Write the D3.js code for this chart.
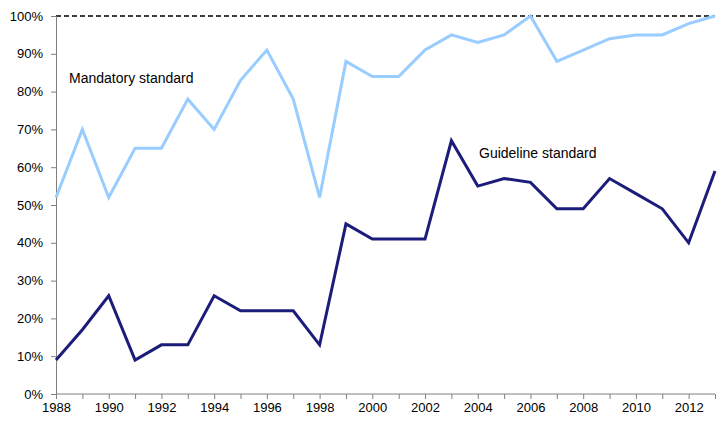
<!DOCTYPE html>
<html>
<head>
<meta charset="utf-8">
<script src="https://cdn.jsdelivr.net/npm/d3@7"></script>
<style>
  body { margin: 0; background: #fff; }
  text { font-family: "Liberation Sans", Arial, sans-serif; }
</style>
</head>
<body>
<script>
// data
let years = d3.range(1988, 2014);
let mandatory = [52, 70, 52, 65, 65, 78, 70, 83, 91, 78, 52, 88, 84, 84, 91, 95, 93, 95, 100, 88, 91, 94, 95, 95, 98, 100];
let guideline = [9, 17, 26, 9, 13, 13, 26, 22, 22, 22, 13, 45, 41, 41, 41, 67, 55, 57, 56, 49, 49, 57, 53, 49, 40, 59];
let yTicks = [0, 10, 20, 30, 40, 50, 60, 70, 80, 90, 100];
let xLabels = d3.range(1988, 2013, 2);

let w = 728;
let h = 425;
let padL = 56, padR = 715, padT = 16, padB = 394;

var svg = d3.select("body")
  .append("svg")
  .attr("width", w)
  .attr("height", h);

var x = d3.scaleLinear().domain([1988, 2013]).range([padL, padR]);
var y = d3.scaleLinear().domain([0, 100]).range([padB, padT]);

// dashed 100% line
svg.append("line")
  .attr("x1", x(1988)).attr("x2", x(2013))
  .attr("y1", y(100)).attr("y2", y(100))
  .attr("stroke", "#000")
  .attr("stroke-width", 1.3)
  .attr("stroke-dasharray", "5,3");

// y axis
var yAxis = svg.append("g")
  .attr("transform", "translate(" + padL + ",0)")
  .call(d3.axisLeft(y).tickValues(yTicks).tickSize(5).tickPadding(8)
    .tickFormat(function(d) { return d + "%"; }));

// x axis
var xAxis = svg.append("g")
  .attr("transform", "translate(0," + padB + ")")
  .call(d3.axisBottom(x).tickValues(years).tickSize(5).tickPadding(4)
    .tickFormat(function(d) { return xLabels.indexOf(d) >= 0 ? d : ""; }));

[yAxis, xAxis].forEach(function(a) {
  a.select(".domain").attr("stroke", "#808080");
  a.selectAll(".tick line").attr("stroke", "#808080");
  a.selectAll(".tick text")
    .attr("fill", "#000")
    .style("font-size", "13px")
    .style("font-family", "Liberation Sans, Arial, sans-serif");
});
xAxis.select(".domain").attr("d", "M" + padL + ",0H" + padR);

var line = d3.line()
  .x(function(d, i) { return x(years[i]); })
  .y(function(d) { return y(d); });

svg.append("path")
  .datum(mandatory)
  .attr("d", line)
  .attr("fill", "none")
  .attr("stroke", "#99ccff")
  .attr("stroke-width", 3)
  .attr("stroke-linejoin", "miter");

svg.append("path")
  .datum(guideline)
  .attr("d", line)
  .attr("fill", "none")
  .attr("stroke", "#1c1c7a")
  .attr("stroke-width", 3)
  .attr("stroke-linejoin", "miter");

svg.append("text")
  .attr("x", 69).attr("y", 83)
  .style("font-size", "14px")
  .text("Mandatory standard");

svg.append("text")
  .attr("x", 479).attr("y", 158)
  .style("font-size", "14px")
  .text("Guideline standard");
</script>
</body>
</html>
